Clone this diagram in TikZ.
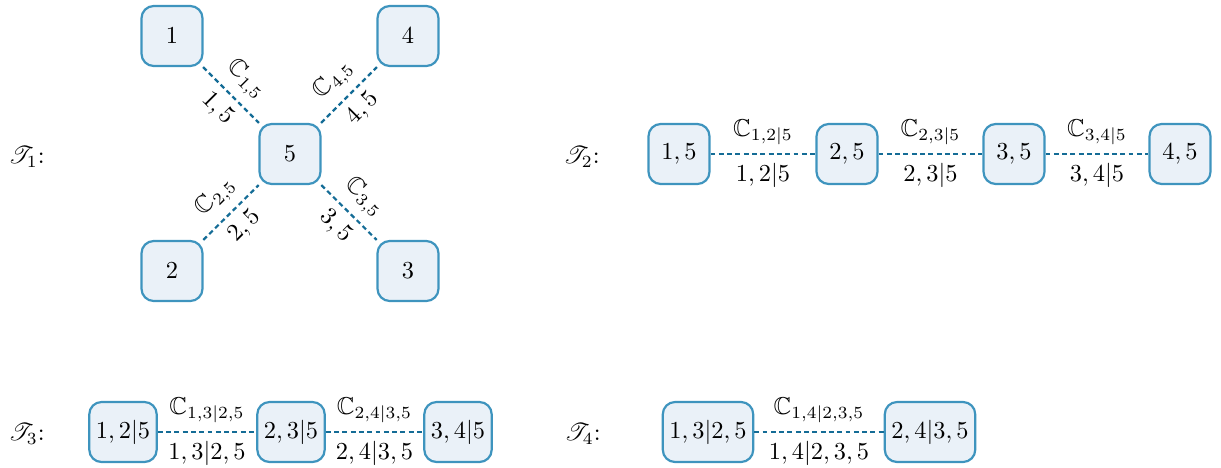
\documentclass[tikz,border=0pt]{standalone}
\usepackage{amsmath,amssymb,mathrsfs}
\definecolor{nodeborder}{RGB}{62,148,190}
\definecolor{nodefill}{RGB}{234,241,248}
\definecolor{edgecol}{RGB}{20,108,150}
\tikzset{
  cl/.style={draw=nodeborder, fill=nodefill, line width=0.9pt, rounded corners=5pt,
    minimum width=25pt, minimum height=24.6pt, inner xsep=2.7pt},
  sep/.style={draw=edgecol, line width=0.9pt, dash pattern=on 2pt off 1.4pt},
  tname/.style={anchor=west}
}
\begin{document}
\begin{tikzpicture}[x=0.41pt,y=-0.41pt]
\useasboundingbox (0,0) rectangle (1221,467);
% T1
\node[tname] (t1) at (0,157) {$\mathscr{T}_1$:};
\node[cl] (n1) at (172,36) {$1$};
\node[cl] (n4) at (408,36) {$4$};
\node[cl] (n5) at (290,154) {$5$};
\node[cl] (n2) at (172,271) {$2$};
\node[cl] (n3) at (408,271) {$3$};
\draw[sep] (n1) -- node[sloped,above] {$\mathbb{C}_{1,5}$} node[sloped,below] {$1,5$} (n5);
\draw[sep] (n5) -- node[sloped,above] {$\mathbb{C}_{4,5}$} node[sloped,below] {$4,5$} (n4);
\draw[sep] (n2) -- node[sloped,above] {$\mathbb{C}_{2,5}$} node[sloped,below] {$2,5$} (n5);
\draw[sep] (n5) -- node[sloped,above] {$\mathbb{C}_{3,5}$} node[sloped,below] {$3,5$} (n3);
% T2
\node[tname] (t2) at (555,157) {$\mathscr{T}_2$:};
\node[cl] (a1) at (679,154) {$1,5$};
\node[cl] (a2) at (847,154) {$2,5$};
\node[cl] (a3) at (1014,154) {$3,5$};
\node[cl] (a4) at (1180,154) {$4,5$};
\draw[sep] (a1) -- node[above] {$\mathbb{C}_{1,2|5}$} node[below] {$1,2|5$} (a2);
\draw[sep] (a2) -- node[above] {$\mathbb{C}_{2,3|5}$} node[below] {$2,3|5$} (a3);
\draw[sep] (a3) -- node[above] {$\mathbb{C}_{3,4|5}$} node[below] {$3,4|5$} (a4);
% T3
\node[tname] (t3) at (0,434) {$\mathscr{T}_3$:};
\node[cl] (b1) at (123,432) {$1,2|5$};
\node[cl] (b2) at (291,432) {$2,3|5$};
\node[cl] (b3) at (458,432) {$3,4|5$};
\draw[sep] (b1) -- node[above] {$\mathbb{C}_{1,3|2,5}$} node[below] {$1,3|2,5$} (b2);
\draw[sep] (b2) -- node[above] {$\mathbb{C}_{2,4|3,5}$} node[below] {$2,4|3,5$} (b3);
% T4
\node[tname] (t4) at (556,434) {$\mathscr{T}_4$:};
\node[cl] (c1) at (708,432) {$1,3|2,5$};
\node[cl] (c2) at (930,432) {$2,4|3,5$};
\draw[sep] (c1) -- node[above] {$\mathbb{C}_{1,4|2,3,5}$} node[below] {$1,4|2,3,5$} (c2);
\end{tikzpicture}
\end{document}
